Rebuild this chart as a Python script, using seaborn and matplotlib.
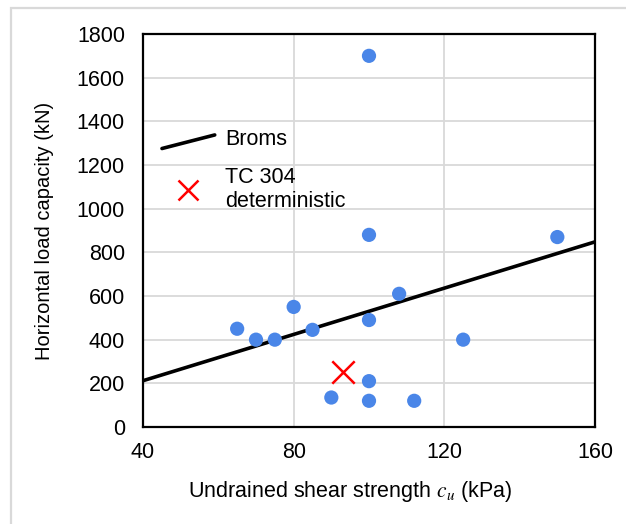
import matplotlib
matplotlib.use("Agg")
import matplotlib.pyplot as plt
from matplotlib.lines import Line2D
from matplotlib.legend_handler import HandlerBase
from matplotlib.patches import Rectangle
import seaborn as sns
import pandas as pd

# Measured pile tests: undrained shear strength (kPa) vs horizontal load capacity (kN)
cu_tests = [100, 100, 150, 108, 80, 100, 65, 85, 70, 75, 125, 100, 90, 100, 112]
h_tests = [1700, 880, 870, 610, 550, 490, 450, 445, 400, 400, 400, 210, 135, 120, 120]

# Broms method prediction
broms_cu = [40, 160]
broms_h = [212, 848]

# TC 304 deterministic estimate
tc304_cu = [93]
tc304_h = [250]

x_ticks = [40, 80, 120, 160]
y_ticks = [0, 200, 400, 600, 800, 1000, 1200, 1400, 1600, 1800]

sns.set_theme(style="white")
plt.rcParams["font.family"] = ["Liberation Sans", "DejaVu Sans"]
plt.rcParams["mathtext.fontset"] = "stix"
plt.rcParams["text.color"] = "black"

FS = 15.5
W, H = 626, 524
fig = plt.figure(figsize=(W / 100, H / 100), dpi=100)
fig.patch.set_facecolor("white")

# light chart-area frame
fig.patches.append(Rectangle((11 / W, -0.1), 1.2, 1 - 8 / H + 0.1, transform=fig.transFigure,
                             fill=False, edgecolor="#d9d9d9", linewidth=1.6, zorder=0))

ax = fig.add_axes([143 / W, (H - 427) / H, 452 / W, 393 / H])

tests = pd.DataFrame({"cu": cu_tests, "H": h_tests})
broms = pd.DataFrame({"cu": broms_cu, "H": broms_h})
tc = pd.DataFrame({"cu": tc304_cu, "H": tc304_h})

sns.lineplot(data=broms, x="cu", y="H", ax=ax, color="black", linewidth=2.6, zorder=3)
sns.scatterplot(data=tests, x="cu", y="H", ax=ax, color="#4a86e8", s=105,
                edgecolor="none", zorder=4)
sns.scatterplot(data=tc, x="cu", y="H", ax=ax, color="#ff0000", marker="x", s=260,
                linewidth=1.8, zorder=5)

ax.set_xlim(40, 160)
ax.set_ylim(0, 1800)
ax.set_xticks(x_ticks)
ax.set_yticks(y_ticks)
ax.grid(True, color="#d9d9d9", linewidth=1.3)
ax.set_axisbelow(True)
for sp in ax.spines.values():
    sp.set_color("black")
    sp.set_linewidth(1.6)
ax.tick_params(axis="both", length=0, labelsize=FS, colors="black")
ax.tick_params(axis="x", pad=11)
ax.tick_params(axis="y", pad=13)
ax.set_xlabel(r"Undrained shear strength $c_u$ (kPa)", fontsize=FS, color="black")
ax.xaxis.set_label_coords(0.458, -0.132)
ax.set_ylabel("Horizontal load capacity (kN)", fontsize=14.5, color="black", labelpad=16)


class SlantedLineHandler(HandlerBase):
    def create_artists(self, legend, orig_handle, xdescent, ydescent, width, height,
                       fontsize, trans):
        ln = Line2D([-xdescent, width - xdescent], [-ydescent - 0.2 * height, height * 0.7 - ydescent],
                    color="black", linewidth=2.6, transform=trans)
        return [ln]


broms_handle = Line2D([], [], color="black", linewidth=2.6)
tc_handle = Line2D([], [], color="#ff0000", marker="x", linestyle="none",
                   markersize=15, markeredgewidth=1.8)
ax.legend([broms_handle, tc_handle], ["Broms", "TC 304\ndeterministic"],
          handler_map={broms_handle: SlantedLineHandler()},
          loc="upper left", bbox_to_anchor=(0.042, 0.757), frameon=False,
          fontsize=FS, handlelength=2.45, handletextpad=0.5, borderpad=0,
          borderaxespad=0, labelspacing=0.75, labelcolor="black")

fig.savefig("out.png", dpi=100)
